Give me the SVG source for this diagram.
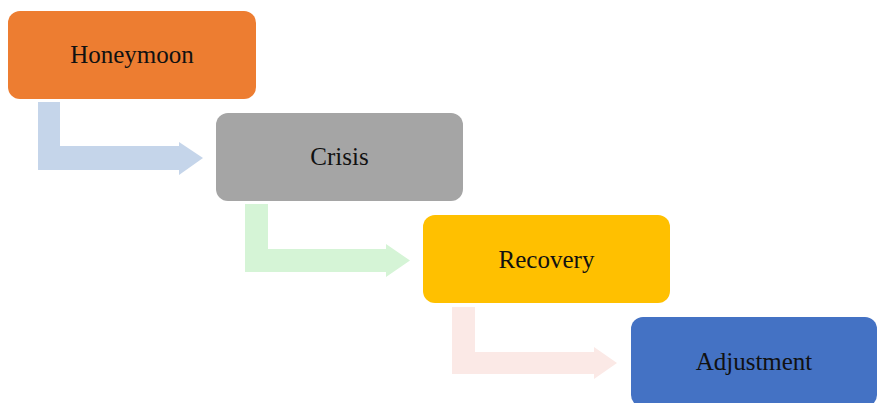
<svg xmlns="http://www.w3.org/2000/svg" width="877" height="403" viewBox="0 0 877 403">
<style>
.box{stroke:none}
.lbl{font-family:"Liberation Serif","DejaVu Serif",serif;font-size:25px;fill:#111;text-anchor:middle}
</style>
<rect width="877" height="403" fill="#fff"/>
<g id="connectors">
<path d="M38,102 H60 V146 H179 V142 L203,158 L179,175 V170 H38 Z" fill="#C5D5EA"/>
<path d="M245,204 H268 V249 H386 V244 L410,260.5 L386,277 V272 H245 Z" fill="#D5F4D6"/>
<path d="M452,307 H475 V352 H594 V347 L617,363 L594,379 V374 H452 Z" fill="#FBE9E6"/>
</g>
<g id="honeymoon">
<rect class="box" x="8" y="11" width="248" height="88" rx="12" fill="#ED7D31"/>
<text class="lbl" x="132" y="63">Honeymoon</text>
</g>
<g id="crisis">
<rect class="box" x="216" y="113" width="247" height="88" rx="12" fill="#A5A5A5"/>
<text class="lbl" x="339.5" y="165">Crisis</text>
</g>
<g id="recovery">
<rect class="box" x="423" y="215" width="247" height="88" rx="12" fill="#FFC000"/>
<text class="lbl" x="546.5" y="268">Recovery</text>
</g>
<g id="adjustment">
<rect class="box" x="631" y="317" width="246" height="90" rx="12" fill="#4472C4"/>
<text class="lbl" x="754" y="370">Adjustment</text>
</g>
</svg>
